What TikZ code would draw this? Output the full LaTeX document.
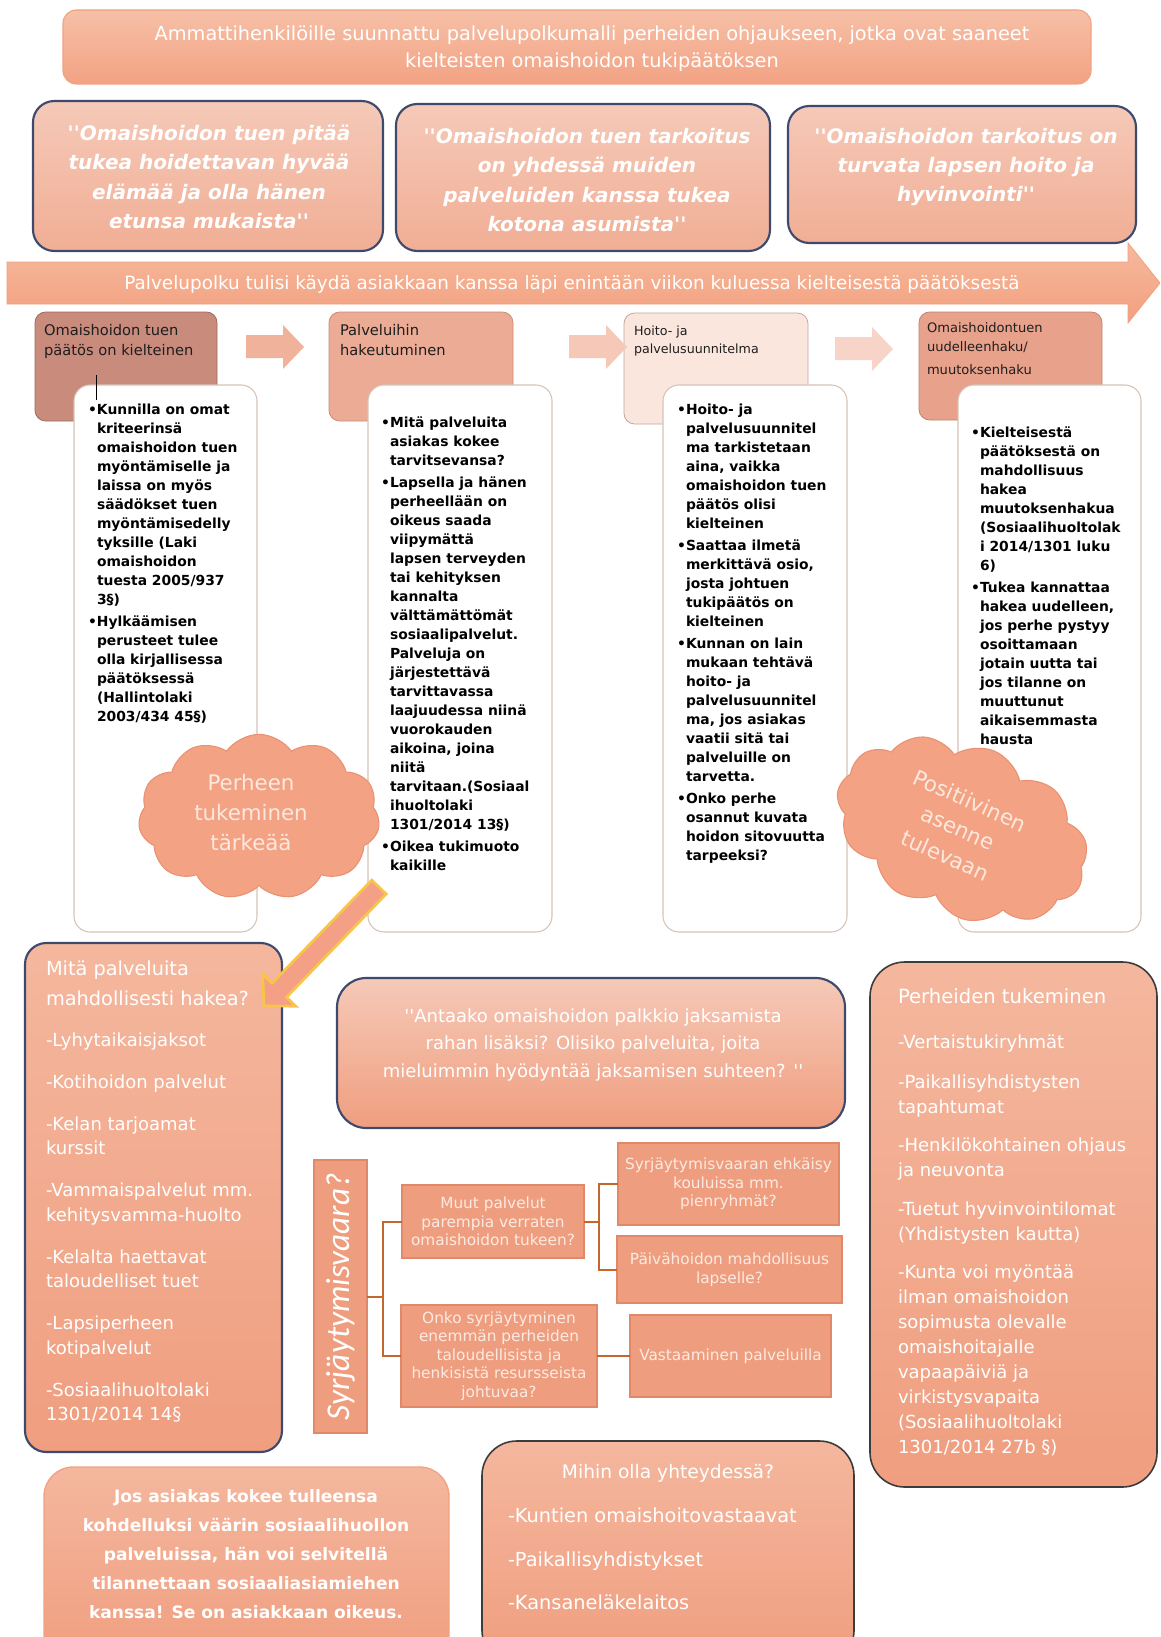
\documentclass[tikz,border=0pt]{standalone}
\usepackage{fontspec}
\setmainfont{DejaVu Sans}
\newfontfamily\carl{Carlito}
\usetikzlibrary{fit,shapes.symbols}
\definecolor{navy}{HTML}{3E4A6D}
\definecolor{ttop}{HTML}{F6C0A7}
\definecolor{tbot}{HTML}{F3A283}
\definecolor{tborder}{HTML}{F1A27F}
\definecolor{qtop}{HTML}{F5C9B8}
\definecolor{qbot}{HTML}{F1AE95}
\definecolor{atop}{HTML}{F6B99C}
\definecolor{abot}{HTML}{F2A07F}
\definecolor{hone}{HTML}{C98B7C}
\definecolor{honeb}{HTML}{9E6A5E}
\definecolor{htwo}{HTML}{EBAB95}
\definecolor{htwob}{HTML}{C98D78}
\definecolor{hthree}{HTML}{FBE6DE}
\definecolor{hthreeb}{HTML}{BFA9A0}
\definecolor{hfour}{HTML}{E8A18B}
\definecolor{hfourb}{HTML}{C08470}
\definecolor{cborder}{HTML}{D7C3B8}
\definecolor{arrone}{HTML}{F0B29A}
\definecolor{arrtwo}{HTML}{F5C8B8}
\definecolor{arrthree}{HTML}{F7D4C7}
\definecolor{cloudfill}{HTML}{F3A384}
\definecolor{cloudline}{HTML}{E99172}
\definecolor{cloudtext}{HTML}{FCE8DF}
\definecolor{gold}{HTML}{F8C548}
\definecolor{darrow}{HTML}{F3A086}
\definecolor{mtop}{HTML}{F4B79E}
\definecolor{mbot}{HTML}{F09E7F}
\definecolor{sfill}{HTML}{EE9E7F}
\definecolor{sborder}{HTML}{E08867}
\definecolor{stext}{HTML}{FCEAE2}
\definecolor{connc}{HTML}{C2672E}
\definecolor{dgrey}{HTML}{3C3C3C}
\definecolor{txt}{HTML}{1E1E1E}
\newcommand\bul{\llap{•}}
\newcommand\qq{\textquotesingle\textquotesingle}
\begin{document}
\begin{tikzpicture}[x=0.75pt,y=-0.75pt,
  every node/.style={inner sep=0pt,outer sep=0pt},
  titlebox/.style={draw=tborder,line width=0.8pt,rounded corners=10pt,top color=ttop,bottom color=tbot},
  quotebox/.style={draw=navy,line width=1.6pt,rounded corners=16pt,top color=qtop,bottom color=qbot},
  quotetext/.style={text=white,align=center,font=\fontsize{15}{22}\selectfont\bfseries\itshape},
  headbox/.style={rounded corners=8pt,line width=0.6pt},
  headtext/.style={text=txt,align=left,anchor=north west,font=\fontsize{11}{15}\selectfont},
  contbox/.style={draw=cborder,fill=white,line width=0.8pt,rounded corners=12pt},
  conttext/.style={text=black,align=left,anchor=north west,font=\fontsize{10.4}{14.25}\selectfont\bfseries},
  salmonbox/.style={top color=mtop,bottom color=mbot,line width=1.6pt},
  whitetext/.style={text=white,align=left,anchor=north west},
  cloudnode/.style={cloud,cloud puffs=11,cloud puff arc=110,draw=cloudline,fill=cloudfill,line width=0.8pt},
  cloudtext/.style={text=cloudtext,align=center,font=\fontsize{16}{22.5}\selectfont},
  sbox/.style={draw=sborder,fill=sfill,line width=0.8pt},
  stextstyle/.style={text=stext,align=center,font=\fontsize{11.5}{14}\selectfont},
  conn/.style={draw=connc,line width=1.5pt}
]
\clip (0,0) rectangle (1160,1637);
\fill[white] (0,0) rectangle (1160,1637);

% title
\node[titlebox,fit={(63,10)(1091,84)}] (title) {};
\node[text=white,align=center,font=\fontsize{14.5}{20}\selectfont] (titletext) at (592,49)
  {Ammattihenkilöille suunnattu palvelupolkumalli perheiden ohjaukseen, jotka ovat saaneet\\kielteisten omaishoidon tukipäätöksen};

% quotes
\node[quotebox,fit={(33,101)(383,251)}] (q1) {};
\node[quotebox,fit={(396,104)(770,251)}] (q2) {};
\node[quotebox,fit={(788,106)(1136,243)}] (q3) {};
\node[quotetext] (q1t) at (209,177) {\qq Omaishoidon tuen pitää\\tukea hoidettavan hyvää\\elämää ja olla hänen\\etunsa mukaista\qq};
\node[quotetext] (q2t) at (587,180) {\qq Omaishoidon tuen tarkoitus\\on yhdessä muiden\\palveluiden kanssa tukea\\kotona asumista\qq};
\node[quotetext] (q3t) at (966,167) {\qq Omaishoidon tarkoitus on\\turvata lapsen hoito ja\\hyvinvointi\qq};

% big arrow
\path[top color=atop,bottom color=abot,draw=abot,line width=0.6pt]
  (7,262) -- (1128,262) -- (1128,243) -- (1160,283) -- (1128,323) -- (1128,304) -- (7,304) -- cycle;
\node[text=white,font=\fontsize{13.8}{16}\selectfont] (pathtext) at (572,284)
  {Palvelupolku tulisi käydä asiakkaan kanssa läpi enintään viikon kuluessa kielteisestä päätöksestä};

% step headers
\node[headbox,fit={(35,312)(217,421)},fill=hone,draw=honeb] (h1) {};
\node[headbox,fit={(329,312)(513,421)},fill=htwo,draw=htwob] (h2) {};
\node[headbox,fit={(624,313)(808,424)},fill=hthree,draw=hthreeb] (h3) {};
\node[headbox,fit={(919,312)(1102,420)},fill=hfour,draw=hfourb] (h4) {};
\node[headtext] (h1t) at (44,324) {Omaishoidon tuen\\päätös on kielteinen};
\node[headtext] (h2t) at (340,324) {Palveluihin\\hakeutuminen};
\node[headtext,font=\fontsize{9.5}{13.5}\selectfont] (h3t) at (634,326) {Hoito- ja\\palvelusuunnitelma};
\node[headtext,font=\fontsize{9.8}{14.25}\selectfont] (h4t) at (927,323) {Omaishoidontuen\\uudelleenhaku/\\[3pt]muutoksenhaku};

% block arrows between steps
\fill[arrone] (246,335) -- (283,335) -- (283,325) -- (304,347) -- (283,369) -- (283,358) -- (246,358) -- cycle;
\fill[arrtwo] (569,335) -- (606,335) -- (606,325) -- (627,347) -- (606,369) -- (606,358) -- (569,358) -- cycle;
\fill[arrthree] (835,337) -- (872,337) -- (872,327) -- (893,349) -- (872,371) -- (872,360) -- (835,360) -- cycle;

% content boxes
\node[contbox,fit={(74,385)(257,932)}] (c1) {};
\node[contbox,fit={(368,385)(552,932)}] (c2) {};
\node[contbox,fit={(663,385)(847,932)}] (c3) {};
\node[contbox,fit={(958,385)(1141,932)}] (c4) {};
\draw[black,line width=0.7pt] (96,375) -- (96,400);

\node[conttext] (c1t) at (97,404) {\bul Kunnilla on omat\\kriteerinsä\\omaishoidon tuen\\myöntämiselle ja\\laissa on myös\\säädökset tuen\\myöntämisedelly\\tyksille (Laki\\omaishoidon\\tuesta 2005/937\\3§)\\[2.25pt]\bul Hylkäämisen\\perusteet tulee\\olla kirjallisessa\\päätöksessä\\(Hallintolaki\\2003/434 45§)};
\node[conttext] (c2t) at (390,417) {\bul Mitä palveluita\\asiakas kokee\\tarvitsevansa?\\[2.25pt]\bul Lapsella ja hänen\\perheellään on\\oikeus saada\\viipymättä\\lapsen terveyden\\tai kehityksen\\kannalta\\välttämättömät\\sosiaalipalvelut.\\Palveluja on\\järjestettävä\\tarvittavassa\\laajuudessa niinä\\vuorokauden\\aikoina, joina\\niitä\\tarvitaan.(Sosiaal\\ihuoltolaki\\1301/2014 13§)\\[2.25pt]\bul Oikea tukimuoto\\kaikille};
\node[conttext] (c3t) at (686,404) {\bul Hoito- ja\\palvelusuunnitel\\ma tarkistetaan\\aina, vaikka\\omaishoidon tuen\\päätös olisi\\kielteinen\\[2.25pt]\bul Saattaa ilmetä\\merkittävä osio,\\josta johtuen\\tukipäätös on\\kielteinen\\[2.25pt]\bul Kunnan on lain\\mukaan tehtävä\\hoito- ja\\palvelusuunnitel\\ma, jos asiakas\\vaatii sitä tai\\palveluille on\\tarvetta.\\[2.25pt]\bul Onko perhe\\osannut kuvata\\hoidon sitovuutta\\tarpeeksi?};
\node[conttext] (c4t) at (980,427) {\bul Kielteisestä\\päätöksestä on\\mahdollisuus\\hakea\\muutoksenhakua\\(Sosiaalihuoltolak\\i 2014/1301 luku\\6)\\[2.25pt]\bul Tukea kannattaa\\hakea uudelleen,\\jos perhe pystyy\\osoittamaan\\jotain uutta tai\\jos tilanne on\\muuttunut\\aikaisemmasta\\hausta};

% clouds
\node[cloudnode,aspect=1.47,minimum width=181pt,minimum height=124pt] (cloud1) at (259,817) {};
\node[cloudtext] (cloud1t) at (251,813) {Perheen\\tukeminen\\tärkeää};
\node[cloudnode,aspect=1.5,rotate=-22,minimum width=196pt,minimum height=128pt] (cloud2) at (962,830) {};
\node[cloudtext,rotate=-24] (cloud2t) at (958,828) {Positiivinen\\asenne\\tulevaan};

% left services box
\node[salmonbox,draw=navy,rounded corners=16pt,fit={(25,943)(282,1452)}] (mita) {};
\node[whitetext,font=\fontsize{14.5}{22.5}\selectfont] (mitah) at (46,961) {Mitä palveluita\\mahdollisesti hakea?};
\node[whitetext,font=\fontsize{13.5}{18.4}\selectfont] (mitai) at (46,1033) {-Lyhytaikaisjaksot\\[13pt]-Kotihoidon palvelut\\[13pt]-Kelan tarjoamat\\kurssit\\[13pt]-Vammaispalvelut mm.\\kehitysvamma-huolto\\[13pt]-Kelalta haettavat\\taloudelliset tuet\\[13pt]-Lapsiperheen\\kotipalvelut\\[13pt]-Sosiaalihuoltolaki\\1301/2014 14§};

% diagonal arrow
\path[fill=darrow,draw=gold,line width=2pt,line join=miter]
  (371.8,880.1) -- (272.1,983.2) -- (262.8,974.2) -- (264,1006) -- (295.8,1006.2) -- (286.5,997.2) -- (386.2,894.0) -- cycle;

% question box
\node[salmonbox,draw=navy,rounded corners=22pt,top color=qtop,bottom color=mbot,fit={(337,978)(845,1128)}] (antaa) {};
\node[text=white,align=center,font=\fontsize{13.5}{20.6}\selectfont] (antaat) at (593,1045)
  {\qq Antaako omaishoidon palkkio jaksamista\\rahan lisäksi? Olisiko palveluita, joita\\mieluimmin hyödyntää jaksamisen suhteen? \qq};

% Syrjaytymisvaara tree
\node[sbox,fit={(314,1160)(367,1433)}] (v) {};
\node[text=white,rotate=90,font=\fontsize{25}{28}\selectfont\carl\itshape] (vt) at (v.center) {Syrjäytymisvaara?};
\node[sbox,fit={(402,1185)(584,1258)}] (m1) {};
\node[sbox,fit={(618,1143)(839,1225)}] (r1) {};
\node[sbox,fit={(617,1236)(842,1303)}] (r2) {};
\node[sbox,fit={(401,1305)(597,1407)}] (m2) {};
\node[sbox,fit={(630,1315)(831,1397)}] (r3) {};
\node[stextstyle] (m1t) at (m1.center) {Muut palvelut\\parempia verraten\\omaishoidon tukeen?};
\node[stextstyle] (r1t) at (r1.center) {Syrjäytymisvaaran ehkäisy\\kouluissa mm.\\pienryhmät?};
\node[stextstyle] (r2t) at (r2.center) {Päivähoidon mahdollisuus\\lapselle?};
\node[stextstyle,font=\fontsize{11.5}{13.9}\selectfont] (m2t) at (m2.center) {Onko syrjäytyminen\\enemmän perheiden\\taloudellisista ja\\henkisistä resursseista\\johtuvaa?};
\node[stextstyle] (r3t) at (r3.center) {Vastaaminen palveluilla};
\draw[conn] (v.east) -- ++(16,0) |- (m1.west);
\draw[conn] (v.east) -- ++(16,0) |- (m2.west);
\draw[conn] (m1.east) -- ++(15,0) |- (r1.west);
\draw[conn] (m1.east) -- ++(15,0) |- (r2.west);
\draw[conn] (m2.east) -- (r3.west);

% right support box
\node[salmonbox,draw=dgrey,line width=1.2pt,rounded corners=26pt,fit={(870,962)(1157,1487)}] (perh) {};
\node[whitetext,font=\fontsize{14.7}{18}\selectfont] (perhh) at (898,989) {Perheiden tukeminen};
\node[whitetext,font=\fontsize{13.5}{18.75}\selectfont] (perhi) at (898,1035) {-Vertaistukiryhmät\\[11pt]-Paikallisyhdistysten\\tapahtumat\\[10pt]-Henkilökohtainen ohjaus\\ja neuvonta\\[10pt]-Tuetut hyvinvointilomat\\(Yhdistysten kautta)\\[10pt]-Kunta voi myöntää\\ilman omaishoidon\\sopimusta olevalle\\omaishoitajalle\\vapaapäiviä ja\\virkistysvapaita\\(Sosiaalihuoltolaki\\1301/2014 27b §)};

% bottom left box
\node[salmonbox,draw=tborder,line width=1pt,rounded corners=22pt,fit={(44,1467)(449,1665)}] (jos) {};
\node[text=white,align=center,font=\fontsize{12.8}{21.75}\selectfont\bfseries] (jost) at (246,1554)
  {Jos asiakas kokee tulleensa\\kohdelluksi väärin sosiaalihuollon\\palveluissa, hän voi selvitellä\\tilannettaan sosiaaliasiamiehen\\kanssa! Se on asiakkaan oikeus.};

% bottom middle box
\node[salmonbox,draw=dgrey,line width=1.2pt,rounded corners=26pt,fit={(482,1441)(854,1665)}] (mihin) {};
\node[text=white,font=\fontsize{14}{18}\selectfont] (mihinh) at (668,1473) {Mihin olla yhteydessä?};
\node[whitetext,font=\fontsize{14.5}{32.6}\selectfont] (mihini) at (508,1508) {-Kuntien omaishoitovastaavat\\-Paikallisyhdistykset\\-Kansaneläkelaitos};
\end{tikzpicture}
\end{document}
